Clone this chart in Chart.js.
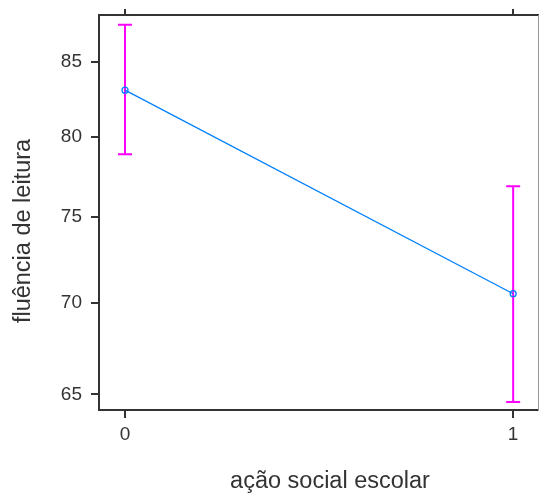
<!DOCTYPE html>
<html>
<head>
<meta charset="utf-8">
<script src="https://cdn.jsdelivr.net/npm/chart.js@4/dist/chart.umd.min.js"></script>
<style>
  html, body { margin: 0; padding: 0; background: #fff; }
</style>
</head>
<body>
<canvas id="grafico" width="539" height="498"></canvas>
<script>
var acaoSocial = [0, 1];
var fluencia = [83.1, 70.5];
var limiteSup = [87.6, 76.9];
var limiteInf = [78.9, 64.6];
var ticksX = [0, 1];
var ticksY = [65, 70, 75, 80, 85];

var fonte = "'Liberation Sans', Arial, sans-serif";

// barras de erro (magenta), desenhadas antes da linha
var barrasErro = {
  id: 'barrasErro',
  beforeDatasetsDraw: function(chart) {
    var ctx = chart.ctx, sx = chart.scales.x, sy = chart.scales.y;
    ctx.save();
    ctx.strokeStyle = '#ff00ff';
    ctx.lineWidth = 2;
    for (var i = 0; i < acaoSocial.length; i++) {
      var px = sx.getPixelForValue(acaoSocial[i]);
      var yt = sy.getPixelForValue(limiteSup[i]);
      var yb = sy.getPixelForValue(limiteInf[i]);
      ctx.beginPath();
      ctx.moveTo(px, yt); ctx.lineTo(px, yb);
      ctx.moveTo(px - 7, yt); ctx.lineTo(px + 7, yt);
      ctx.moveTo(px - 7, yb); ctx.lineTo(px + 7, yb);
      ctx.stroke();
    }
    ctx.restore();
  }
};

// rótulos dos eixos
var titulos = {
  id: 'titulos',
  afterDraw: function(chart) {
    var ctx = chart.ctx;
    ctx.save();
    ctx.fillStyle = '#333';
    ctx.font = '23.5px ' + fonte;
    ctx.textAlign = 'center';
    ctx.textBaseline = 'middle';
    ctx.fillText('ação social escolar', 330, 482);
    ctx.translate(24, 231);
    ctx.rotate(-Math.PI / 2);
    ctx.fillText('fluência de leitura', 0, 0);
    ctx.restore();
  }
};

function fixarTicks(valores) {
  return function(scale) {
    scale.ticks = valores.map(function(v) { return { value: v }; });
  };
}

function semPadding(scale) {
  scale.paddingTop = 0;
  scale.paddingBottom = 0;
  scale.paddingLeft = 0;
  scale.paddingRight = 0;
}

new Chart(document.getElementById('grafico'), {
  type: 'line',
  data: {
    datasets: [{
      data: acaoSocial.map(function(x, i) { return { x: x, y: fluencia[i] }; }),
      borderColor: '#0080ff',
      borderWidth: 1.3,
      pointStyle: 'circle',
      pointRadius: 3,
      pointBorderColor: '#0080ff',
      pointBackgroundColor: 'rgba(0,0,0,0)',
      pointBorderWidth: 1.3,
      fill: false,
      clip: false
    }]
  },
  options: {
    responsive: false,
    animation: false,
    devicePixelRatio: 1,
    layout: { padding: 0, autoPadding: false },
    plugins: { legend: { display: false }, tooltip: { enabled: false } },
    scales: {
      x: {
        type: 'linear',
        position: 'bottom',
        min: -0.067,
        max: 1.064,
        afterBuildTicks: fixarTicks(ticksX),
        afterFit: function(s) { s.height = 88; semPadding(s); },
        grid: { drawOnChartArea: false, drawTicks: true, tickLength: 8, color: '#333', lineWidth: 2 },
        border: { color: '#333', width: 2 },
        ticks: { color: '#333', font: { size: 19, family: fonte }, padding: 5, maxRotation: 0,
                 callback: function(v) { return String(v); } }
      },
      xTopo: {
        type: 'linear',
        position: 'top',
        min: -0.067,
        max: 1.064,
        afterBuildTicks: fixarTicks(ticksX),
        afterFit: function(s) { s.height = 15; semPadding(s); },
        grid: { drawOnChartArea: false, drawTicks: true, tickLength: 6, color: '#333', lineWidth: 2 },
        border: { color: '#333', width: 2 },
        ticks: { display: false }
      },
      y: {
        type: 'logarithmic',
        position: 'left',
        min: 64.18,
        max: 88.3,
        afterBuildTicks: fixarTicks(ticksY),
        afterFit: function(s) { s.width = 99; semPadding(s); },
        grid: { drawOnChartArea: false, drawTicks: true, tickLength: 8, color: '#333', lineWidth: 2 },
        border: { color: '#333', width: 2 },
        ticks: { color: '#333', font: { size: 19, family: fonte }, padding: 9,
                 callback: function(v) { return String(v); } }
      },
      yDireita: {
        type: 'linear',
        position: 'right',
        afterFit: function(s) { s.width = 1; semPadding(s); },
        grid: { display: false, drawTicks: false },
        border: { color: '#999', width: 1 },
        ticks: { display: false }
      }
    }
  },
  plugins: [barrasErro, titulos]
});
</script>
</body>
</html>
